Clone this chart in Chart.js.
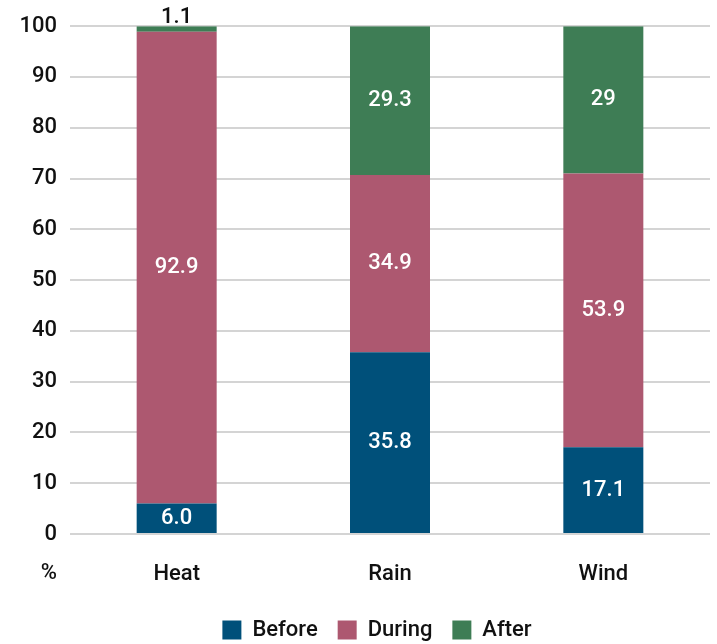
<!DOCTYPE html>
<html>
<head>
<meta charset="utf-8">
<script src="https://cdn.jsdelivr.net/npm/chart.js@4/dist/chart.umd.min.js"></script>
<style>
  html, body { margin: 0; padding: 0; background: #fff; }
  #wrap { width: 717px; height: 644px; }
</style>
</head>
<body>
<div id="wrap"><canvas id="barChart" width="717" height="644"></canvas></div>
<script>
'use strict';

const categories = ['Heat', 'Rain', 'Wind'];
const before = [6.0, 35.8, 17.1];
const during = [92.9, 34.9, 53.9];
const after = [1.1, 29.3, 29];
const beforeLabels = ['6.0', '35.8', '17.1'];
const duringLabels = ['92.9', '34.9', '53.9'];
const afterLabels = ['1.1', '29.3', '29'];
const yTicks = [0, 10, 20, 30, 40, 50, 60, 70, 80, 90, 100];

const FONT = 'Roboto, sans-serif';
const FSIZE = 22;
const FWEIGHT = '500';

// white numbers in the middle of each segment, small ones go above the bar
const labelPlugin = {
  id: 'segLabels',
  afterLayout(chart) {
    // legend sits a bit right of the canvas centre, under the plot
    if (chart.legend) {
      chart.legend.left += 22;
      chart.legend.right += 22;
    }
  },
  afterDatasetsDraw(chart) {
    const ctx = chart.ctx;
    ctx.save();
    ctx.font = FWEIGHT + ' ' + FSIZE + 'px ' + FONT;
    ctx.textAlign = 'center';
    ctx.textBaseline = 'middle';
    chart.data.datasets.forEach(function(ds, i) {
      const meta = chart.getDatasetMeta(i);
      meta.data.forEach(function(bar, j) {
        const txt = ds.labelText[j];
        const h = Math.abs(bar.base - bar.y);
        if (h < 22) {
          ctx.fillStyle = '#111';
          ctx.textBaseline = 'bottom';
          ctx.fillText(txt, bar.x, bar.y + 2);
          ctx.textBaseline = 'middle';
        } else {
          ctx.fillStyle = '#fff';
          ctx.fillText(txt, bar.x, (bar.y + bar.base) / 2);
        }
      });
    });
    // the "%" unit under the y axis
    const x = chart.scales.x;
    ctx.fillStyle = '#111';
    ctx.textAlign = 'right';
    ctx.fillText('%', 57, x.top + 39);
    ctx.restore();
  }
};

let context = document.querySelector('#barChart').getContext('2d');
new Chart(context, {
  type: 'bar',
  data: {
    labels: categories,
    datasets: [
      { label: 'Before', data: before, labelText: beforeLabels, backgroundColor: '#00507a' },
      { label: 'During', data: during, labelText: duringLabels, backgroundColor: '#ad5870' },
      { label: 'After', data: after, labelText: afterLabels, backgroundColor: '#3e7d55' }
    ]
  },
  plugins: [labelPlugin],
  options: {
    responsive: false,
    animation: false,
    categoryPercentage: 1,
    barPercentage: 0.375,
    layout: { padding: { top: 21, right: 7, left: 0, bottom: -7 } },
    plugins: {
      legend: {
        position: 'bottom',
        labels: {
          font: { family: FONT, size: FSIZE, weight: FWEIGHT },
          color: '#111',
          boxWidth: 19,
          boxHeight: 19,
          padding: 20
        }
      },
      tooltip: { enabled: false }
    },
    scales: {
      x: {
        stacked: true,
        grid: { display: false, drawTicks: false },
        border: { display: false },
        ticks: { font: { family: FONT, size: FSIZE, weight: FWEIGHT }, color: '#111', padding: 27 },
        afterFit: function(scale) { scale.height = 65; }
      },
      y: {
        stacked: true,
        min: 0,
        max: 100,
        afterBuildTicks: function(scale) { scale.ticks = yTicks.map(function(v) { return { value: v }; }); },
        grid: { color: '#d4d4d4', lineWidth: 2, drawTicks: false },
        border: { display: false },
        ticks: { font: { family: FONT, size: FSIZE, weight: FWEIGHT }, color: '#111', padding: 13 },
        afterFit: function(scale) { scale.width = 70; }
      }
    }
  }
});
</script>
</body>
</html>
